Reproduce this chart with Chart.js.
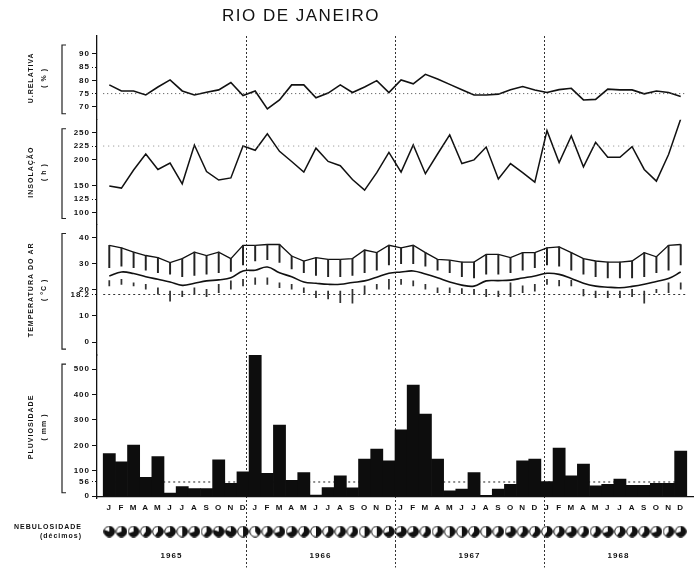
<!DOCTYPE html>
<html>
<head>
<meta charset="utf-8">
<script src="https://cdn.jsdelivr.net/npm/chart.js@4.4.1/dist/chart.umd.min.js"></script>
<style>
html, body { margin: 0; padding: 0; background: #fff; }
#wrap { position: relative; width: 700px; height: 569px; }
#grafico { position: absolute; left: 0; top: 0; }
#titulo { position: absolute; left: 222px; top: 6px; font: 17px 'Liberation Sans', sans-serif; letter-spacing: 1.5px; color: #111; }
</style>
</head>
<body>
<div id="wrap">
  <canvas id="grafico" width="700" height="569"></canvas>
  <div id="titulo">RIO DE JANEIRO</div>
</div>
<script>
// Eixo dos meses (1965-1968)
const meses = ['J', 'F', 'M', 'A', 'M', 'J', 'J', 'A', 'S', 'O', 'N', 'D'];
const anos = ['1965', '1966', '1967', '1968'];

// Umidade relativa (%)
const umidadeRelativa = [78.3, 76, 76, 74.5, 77.5, 80.2, 76, 74.5, 75.5, 76.4, 79.2, 74.3,
    76, 69.2, 72.6, 78.3, 78.3, 73.4, 75.2, 78.3, 75.4, 77.5, 79.9, 75.4,
    80.2, 78.7, 82.3, 80.5, 78.5, 76.5, 74.5, 74.5, 74.8, 76.5, 77.7, 76.4,
    75.4, 76.5, 77, 72.6, 72.8, 76.7, 76.4, 76.4, 74.9, 76, 75.4, 73.9];
const ticksUmidade = [70, 75, 80, 85, 90];
const refUmidade = 75;

// Insolação (h)
const insolacao = [150, 146, 180, 210, 181, 193, 154, 227, 177, 161, 165, 225,
    217, 248, 215, 196, 176, 221, 196, 188, 162, 142, 175, 213,
    176, 227, 173, 210, 246, 192, 199, 223, 163, 192, 175, 157,
    254, 194, 244, 186, 232, 204, 204, 224, 181, 159, 209, 276];
const ticksInsolacao = [100, 125, 150, 200, 225, 250];
const refInsolacao = 225;

// Temperatura do ar (°C)
const tempMaxAbs = [37, 36, 34.4, 33.1, 32.3, 30.4, 31.9, 34.4, 33.1, 34.4, 31.9, 37,
    37, 37.3, 37.3, 32.9, 31, 32.3, 31.6, 31.6, 31.9, 35.2, 34.2, 37,
    36, 37, 34.2, 31.6, 31.3, 30.6, 30.6, 33.5, 33.5, 32.3, 34.2, 34.2,
    36, 36.4, 34.2, 31.9, 31, 30.6, 30.6, 31, 34.2, 32.6, 37, 37.3];
const tempMaxMedia = [28.5, 29, 28.5, 27.5, 26.5, 26, 25, 25.5, 26, 26.5, 27, 29.5,
    31, 31.5, 30.5, 28, 26.5, 25.5, 25, 25, 25.5, 26.5, 27.5, 29.5,
    30, 30, 29, 27.5, 26.5, 25, 24.5, 26, 26, 26.5, 27.5, 28.5,
    29.5, 29, 27.5, 26, 25, 24.5, 24.5, 24.5, 25, 26.5, 27.5, 29.5];
const tempMedia = [25.3, 26.8, 26.2, 25, 24, 23, 21.7, 22.5, 23.4, 23.8, 24.6, 27.2,
    27.5, 28.7, 26.5, 25, 23, 22.5, 22.1, 22.1, 22.8, 23.4, 24.8, 26.3,
    26.8, 27.2, 26, 24.6, 23, 21.8, 21.4, 23.4, 23.5, 23.7, 24.5, 25.3,
    26.3, 25.9, 24.3, 22.5, 21.4, 21, 20.8, 21.3, 22.1, 23.2, 24.3, 26.8];
const tempMinMedia = [23.5, 24, 22.7, 22.1, 20.8, 19.5, 19.5, 20.8, 20.2, 22.1, 23.4, 24,
    24.6, 24.6, 22.7, 22.1, 20.8, 19.5, 19.5, 19.5, 20.2, 21.5, 22.1, 24,
    24, 23.4, 22.1, 20.8, 20.8, 20.5, 20.2, 20.2, 19.5, 22.7, 21.5, 22.1,
    24, 23.6, 23.6, 20.2, 19.5, 19.5, 19.5, 20.2, 19.5, 20.2, 22.7, 22.7];
const tempMinAbs = [21.5, 22.1, 21.5, 20.2, 18.3, 15.7, 17.4, 18.3, 17.4, 18.9, 20.2, 21.5,
    22.1, 22.1, 20.8, 20.2, 18.9, 17, 16.5, 15.1, 14.9, 18.3, 20.2, 20.2,
    22.1, 21.5, 20.2, 18.9, 18.9, 18.5, 18.3, 17.4, 17.4, 17.4, 18.9, 19.5,
    22.1, 21.5, 21.5, 17.7, 17, 17, 17, 17.4, 14.9, 18.9, 18.9, 20.2];
const ticksTemperatura = [0, 10, 18.2, 20, 30, 40];
const refTemperatura = 18.2;

// Pluviosidade (mm)
const pluviosidade = [168, 135, 201, 74, 156, 12, 38, 30, 30, 143, 51, 96,
    630, 90, 280, 63, 93, 5, 34, 80, 33, 146, 185, 139,
    261, 437, 323, 146, 21, 28, 93, 4, 28, 47, 139, 146,
    58, 189, 80, 126, 41, 47, 67, 43, 43, 51, 51, 178];
const ticksPluviosidade = [0, 56, 100, 200, 300, 400, 500];
const refPluviosidade = 56;

// Nebulosidade (décimos)
const nebulosidade = [8, 7, 7, 6, 6, 7, 5, 7, 6, 8, 8, 5,
    4, 6, 7, 7, 6, 5, 6, 6, 6, 5, 5, 7,
    7, 7, 6, 6, 5, 5, 6, 5, 6, 7, 6, 6,
    6, 6, 7, 6, 6, 7, 6, 6, 6, 7, 6, 7];

// Preparação
const rotulosMeses = [];
anos.forEach(() => meses.forEach(m => rotulosMeses.push(m)));
const nMeses = rotulosMeses.length;
const pontos = arr => arr.map((v, i) => ({ x: i + 0.5, y: v }));
const faixa = (baixo, alto) => baixo.map((v, i) => ({ x: i + 0.5, y: [v, alto[i]] }));
const linhaRef = v => [{ x: 0, y: v }, { x: nMeses, y: v }];

// Círculo de nebulosidade (parte preta = décimos de céu coberto)
function discoNuvem(decimos) {
    const c = document.createElement('canvas');
    c.width = 12; c.height = 12;
    const g = c.getContext('2d');
    g.fillStyle = '#fff';
    g.beginPath(); g.arc(6, 6, 5.3, 0, 2 * Math.PI); g.fill();
    g.fillStyle = '#111';
    g.beginPath(); g.moveTo(6, 6);
    g.arc(6, 6, 5.3, -Math.PI / 2, -Math.PI / 2 + 2 * Math.PI * decimos / 10);
    g.closePath(); g.fill();
    g.strokeStyle = '#111'; g.lineWidth = 1;
    g.beginPath(); g.arc(6, 6, 5.3, 0, 2 * Math.PI); g.stroke();
    return c;
}

Chart.defaults.font.family = "'Liberation Sans', sans-serif";
Chart.defaults.font.weight = 'bold';
Chart.defaults.font.size = 8;
Chart.defaults.color = '#111';

const tickRef = refs => ctx => (ctx.tick && refs.includes(ctx.tick.value)) ? [1, 2] : [];

function eixoY(peso, altura, min, max, lista, refs, titulo) {
    return {
        type: 'linear', position: 'left', stack: 'paineis', weight: peso, stackWeight: altura,
        min: min, max: max,
        border: { display: true, color: '#111', width: 1.3 },
        grid: { display: true, drawOnChartArea: false, drawTicks: true, tickLength: 5, color: '#111', tickBorderDash: tickRef(refs) },
        ticks: { padding: 2, autoSkip: false, font: { size: 8, weight: 'bold' }, callback: v => String(v) },
        afterBuildTicks: s => { s.ticks = lista.map(v => ({ value: v })); },
        afterFit: s => { s.width = 97; },
        title: { display: true, text: titulo, font: { size: 7, weight: 'bold', lineHeight: 1.9 }, padding: { top: 24, bottom: 0 } }
    };
}

// Colchetes à esquerda de cada painel
const colchetes = {
    id: 'colchetes',
    afterDraw(chart) {
        const ctx = chart.ctx;
        ctx.save();
        ctx.strokeStyle = '#222';
        ctx.lineWidth = 1.2;
        ['ur', 'ins', 'temp', 'chuva'].forEach(id => {
            const s = chart.scales[id];
            const x = s.left + 62, t = s.top + 9, b = s.bottom - 6;
            ctx.beginPath();
            ctx.moveTo(x + 4, t); ctx.lineTo(x, t); ctx.lineTo(x, b); ctx.lineTo(x + 4, b);
            ctx.stroke();
        });
        ctx.restore();
    }
};

const espacamento = {
    id: 'espacamento',
    beforeDraw(chart) { chart.ctx.letterSpacing = '1px'; },
    afterDraw(chart) { chart.ctx.letterSpacing = '0px'; }
};

const separadores = [12, 24, 36];

new Chart(document.getElementById('grafico'), {
    data: {
        datasets: [
            { type: 'line', label: 'ref UR', data: linhaRef(refUmidade), xAxisID: 'x', yAxisID: 'ur', borderColor: '#444', borderWidth: 1, borderDash: [1, 3], pointRadius: 0 },
            { type: 'line', label: 'Umidade relativa', data: pontos(umidadeRelativa), xAxisID: 'x', yAxisID: 'ur', borderColor: '#111', borderWidth: 1.6, pointRadius: 0, tension: 0 },
            { type: 'line', label: 'ref insolação', data: linhaRef(refInsolacao), xAxisID: 'x', yAxisID: 'ins', borderColor: '#888', borderWidth: 1, borderDash: [1, 4], pointRadius: 0 },
            { type: 'line', label: 'Insolação', data: pontos(insolacao), xAxisID: 'x', yAxisID: 'ins', borderColor: '#111', borderWidth: 1.5, pointRadius: 0, tension: 0 },
            { type: 'line', label: 'ref temperatura', data: linhaRef(refTemperatura), xAxisID: 'x', yAxisID: 'temp', borderColor: '#333', borderWidth: 1, borderDash: [2, 3], pointRadius: 0 },
            { type: 'bar', label: 'Máx. (faixa)', data: faixa(tempMaxMedia, tempMaxAbs), xAxisID: 'x', yAxisID: 'temp', grouped: false, barThickness: 1.3, backgroundColor: '#222' },
            { type: 'bar', label: 'Mín. (faixa)', data: faixa(tempMinAbs, tempMinMedia), xAxisID: 'x', yAxisID: 'temp', grouped: false, barThickness: 1.1, backgroundColor: '#333' },
            { type: 'line', label: 'Máxima absoluta', data: pontos(tempMaxAbs), xAxisID: 'x', yAxisID: 'temp', borderColor: '#111', borderWidth: 1.3, pointRadius: 0, tension: 0 },
            { type: 'line', label: 'Média', data: pontos(tempMedia), xAxisID: 'x', yAxisID: 'temp', borderColor: '#111', borderWidth: 1.6, pointRadius: 0, tension: 0.4 },
            { type: 'bar', label: 'Pluviosidade', data: pontos(pluviosidade), xAxisID: 'x', yAxisID: 'chuva', grouped: false, barPercentage: 1, categoryPercentage: 1, backgroundColor: '#0d0d0d', borderWidth: 0 },
            { type: 'line', label: 'ref chuva', data: linhaRef(refPluviosidade), xAxisID: 'x', yAxisID: 'chuva', borderColor: '#222', borderWidth: 1, borderDash: [2, 3], pointRadius: 0 },
            { type: 'scatter', label: 'Nebulosidade', data: nebulosidade.map((v, i) => ({ x: i + 0.5, y: 0.3 })), xAxisID: 'x', yAxisID: 'neb', pointStyle: nebulosidade.map(discoNuvem), pointRadius: 6 }
        ]
    },
    options: {
        responsive: false,
        animation: false,
        devicePixelRatio: 1,
        layout: { padding: { top: 36, right: 6, bottom: 0, left: 0 } },
        plugins: { legend: { display: false }, tooltip: { enabled: false } },
        scales: {
            x: {
                type: 'linear', position: { chuva: 0 }, min: 0, max: nMeses,
                grid: { display: false, drawTicks: false },
                border: { display: true, color: '#111', width: 1.2 },
                ticks: { padding: 7, autoSkip: false, maxRotation: 0, font: { size: 8, weight: 'bold' }, callback: (v, i) => rotulosMeses[i] },
                afterBuildTicks: s => { s.ticks = rotulosMeses.map((m, i) => ({ value: i + 0.5 })); }
            },
            anos: {
                type: 'linear', position: 'bottom', min: 0, max: nMeses,
                border: { display: false, dash: [2, 2] },
                grid: {
                    drawOnChartArea: true, drawTicks: true, tickLength: 22, lineWidth: 1,
                    color: c => separadores.includes(c.tick && c.tick.value) ? '#333' : 'rgba(0,0,0,0)',
                    tickColor: c => separadores.includes(c.tick && c.tick.value) ? '#333' : 'rgba(0,0,0,0)',
                    tickBorderDash: [2, 2]
                },
                ticks: { padding: -17, autoSkip: false, maxRotation: 0, font: { size: 8, weight: 'bold' }, callback: v => (v % 12 === 6) ? anos[(v - 6) / 12] : '' },
                afterBuildTicks: s => { s.ticks = [0, 6, 12, 18, 24, 30, 36, 42, 48].map(v => ({ value: v })); },
                afterFit: s => { s.height = 22; }
            },
            ur: eixoY(5, 84, 65.1, 96.8, ticksUmidade, [75, 85], ['U.RELATIVA', '( % )']),
            ins: eixoY(4, 105, 77.5, 274.4, ticksInsolacao, [125, 225], ['INSOLAÇÃO', '( h )']),
            temp: eixoY(3, 131, -4.95, 44.95, ticksTemperatura, [18.2], ['TEMPERATURA DO AR', '( °C )']),
            chuva: eixoY(2, 144, -9.8, 554.9, ticksPluviosidade, [56], ['PLUVIOSIDADE', '( mm )']),
            neb: {
                type: 'linear', position: 'left', stack: 'paineis', weight: 1, stackWeight: 47, min: 0, max: 1,
                border: { display: false },
                grid: { display: false, drawTicks: false },
                ticks: { padding: 15, autoSkip: false, font: { size: 7, weight: 'bold' }, callback: () => ['NEBULOSIDADE', '(décimos)'] },
                afterBuildTicks: s => { s.ticks = [{ value: 0.3 }]; },
                afterFit: s => { s.width = 97; }
            }
        }
    },
    plugins: [colchetes, espacamento]
});
</script>
</body>
</html>
